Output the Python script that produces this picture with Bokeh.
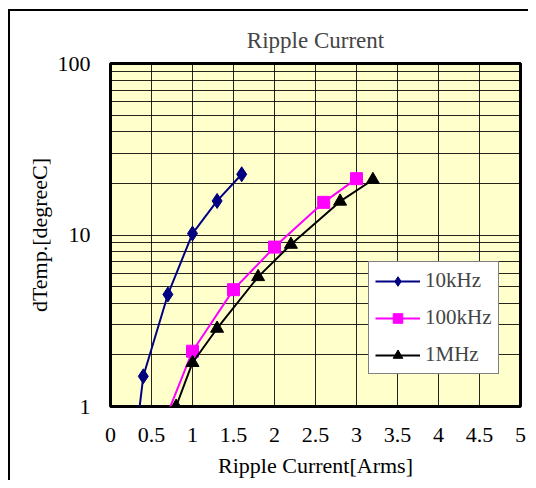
from bokeh.plotting import figure
from bokeh.models import Range1d, FixedTicker, Legend, LegendItem
from bokeh.embed import file_html
from bokeh.resources import INLINE

# ---- data ----
x_10k = [0.3, 0.4, 0.7, 1.0, 1.3, 1.6]
y_10k = [0.6, 1.5, 4.5, 10.2, 15.8, 22.6]

x_100k = [0.5, 1.0, 1.5, 2.0, 2.6, 3.0]
y_100k = [0.53, 2.1, 4.8, 8.5, 15.5, 21.3]

x_1m = [0.8, 1.0, 1.3, 1.8, 2.2, 2.8, 3.2]
y_1m = [1.0, 1.8, 2.85, 5.7, 8.8, 15.7, 21.0]

x_ticks = [0, 0.5, 1, 1.5, 2, 2.5, 3, 3.5, 4, 4.5, 5]
x_tick_labels = ["0", "0.5", "1", "1.5", "2", "2.5", "3", "3.5", "4", "4.5", "5"]
y_ticks = [1, 10, 100]
y_tick_labels = ["1", "10", "100"]
y_minor = [2, 3, 4, 5, 6, 7, 8, 9, 20, 30, 40, 50, 60, 70, 80, 90]

FONT = "Liberation Serif, serif"

p = figure(width=528, height=480, output_backend="svg", toolbar_location=None,
           x_range=Range1d(0, 5), y_range=Range1d(1, 100), y_axis_type="log",
           min_border_left=110, min_border_right=8, min_border_top=63,
           min_border_bottom=72, title="Ripple Current")

# outer chart-area frame: only its left and top edges fall inside the window
p.styles = {"background-color": "white",
            "box-shadow": "inset 8px 9px 0 0 white, inset 10px 11px 0 0 black"}
p.border_fill_alpha = 0

p.background_fill_color = "#FFFFCC"
p.outline_line_color = "black"
p.outline_line_width = 3

p.title.text_font = FONT
p.title.text_font_size = "23px"
p.title.text_font_style = "normal"
p.title.align = "center"
p.title.standoff = 21

p.xaxis.ticker = FixedTicker(ticks=x_ticks)
p.xaxis.major_label_overrides = {t: l for t, l in zip(x_ticks, x_tick_labels)}
p.yaxis.ticker = FixedTicker(ticks=y_ticks, minor_ticks=y_minor)
p.yaxis.major_label_overrides = {t: l for t, l in zip(y_ticks, y_tick_labels)}

for ax in (p.xaxis[0], p.yaxis[0]):
    ax.axis_line_color = None
    ax.major_tick_line_color = None
    ax.minor_tick_line_color = None
    ax.major_label_text_font = FONT
    ax.major_label_text_font_size = "22px"
    ax.axis_label_text_font = FONT
    ax.axis_label_text_font_size = "22px"
    ax.axis_label_text_font_style = "normal"
    ax.major_label_text_color = "black"
    ax.axis_label_text_color = "black"

p.xaxis.axis_label = "Ripple Current[Arms]"
p.yaxis.axis_label = "dTemp.[degreeC]"
p.xaxis.major_label_standoff = 15
p.xaxis.axis_label_standoff = 8
p.yaxis.major_label_standoff = 14
p.yaxis.axis_label_standoff = 3

p.xgrid.ticker = FixedTicker(ticks=x_ticks)
p.xgrid.grid_line_color = "black"
p.xgrid.grid_line_alpha = 0.85
p.xgrid.grid_line_width = 1
p.ygrid.ticker = FixedTicker(ticks=y_ticks, minor_ticks=y_minor)
p.ygrid.grid_line_color = "black"
p.ygrid.grid_line_alpha = 0.85
p.ygrid.minor_grid_line_color = "black"
p.ygrid.minor_grid_line_alpha = 0.85

l1 = p.line(x_10k, y_10k, line_color="#000080", line_width=2)
m1 = p.scatter(x_10k, y_10k, marker="diamond", size=15,
               fill_color="#000080", line_color="#000080")
l2 = p.line(x_100k, y_100k, line_color="#FF00FF", line_width=2)
m2 = p.scatter(x_100k, y_100k, marker="square", size=12,
               fill_color="#FF00FF", line_color="#FF00FF")
l3 = p.line(x_1m, y_1m, line_color="black", line_width=2)
m3 = p.scatter(x_1m, y_1m, marker="triangle", size=13,
               fill_color="black", line_color="black")

legend = Legend(items=[LegendItem(label="10kHz", renderers=[l1, m1]),
                       LegendItem(label="100kHz", renderers=[l2, m2]),
                       LegendItem(label="1MHz", renderers=[l3, m3])],
                location=(258, 32))
legend.label_text_font = FONT
legend.label_text_font_size = "21px"
legend.label_text_font_style = "normal"
legend.border_line_color = "black"
legend.border_line_width = 1
legend.background_fill_color = "white"
legend.background_fill_alpha = 1
legend.glyph_width = 45
legend.glyph_height = 24
legend.label_height = 24
legend.label_standoff = 5
legend.spacing = 12
legend.padding = 6
legend.margin = 0
p.add_layout(legend, "center")

open("out.html", "w").write(file_html(p, INLINE))
